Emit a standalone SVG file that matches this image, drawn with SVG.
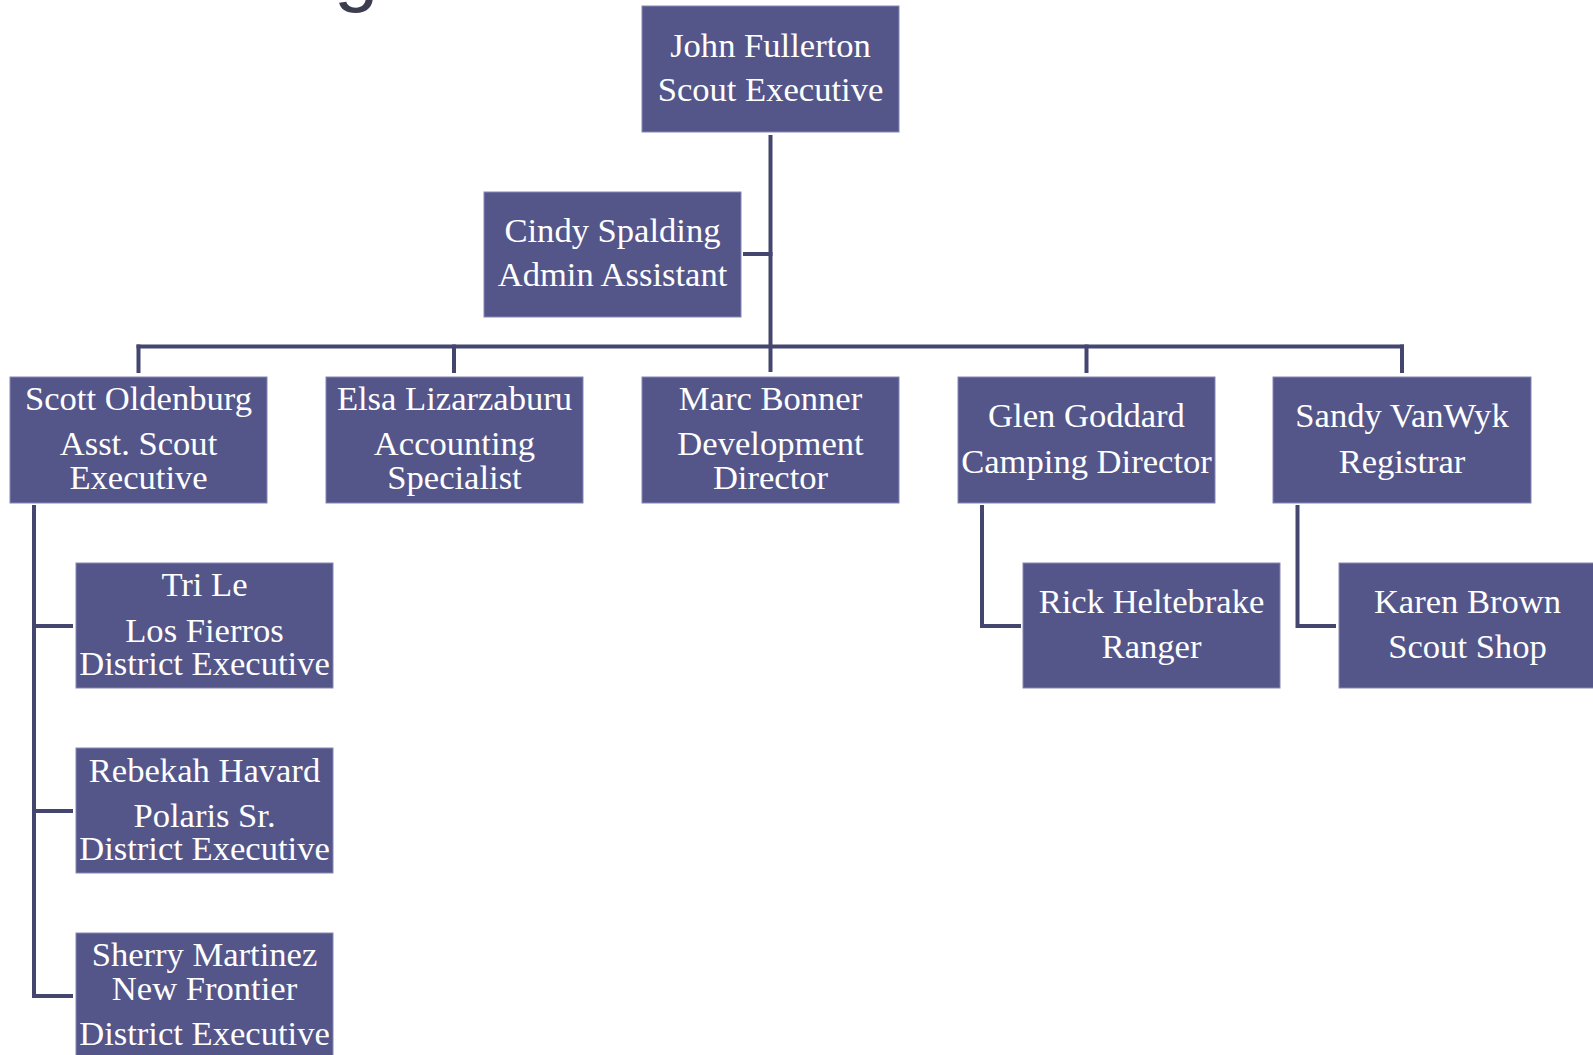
<svg xmlns="http://www.w3.org/2000/svg" width="1593" height="1055" viewBox="0 0 1593 1055">
<style>
.box{fill:#54568a;stroke:#8587b5;stroke-width:1}
.t{font-family:"Liberation Serif","Times New Roman",serif;font-size:34.6px;fill:#ffffff;text-anchor:middle}
.c{fill:none;stroke:#45466f;stroke-width:4;stroke-linecap:square}
.title{font-family:"Liberation Sans",Arial,sans-serif;font-size:80px;fill:#3d3d50}
</style>
<rect width="1593" height="1055" fill="#ffffff"/>
<text class="title" x="334" y="-4">g</text>
<g id="connectors">
<path class="c" d="M770.5 137 V370"/>
<path class="c" d="M745 254 H770.5"/>
<path class="c" d="M138.5 346.5 H1402"/>
<path class="c" d="M138.5 346.5 V371 M454 346.5 V371 M1086.5 346.5 V371 M1402 346.5 V371"/>
<path class="c" d="M34 507 V996 H71 M34 626 H71 M34 811 H71"/>
<path class="c" d="M982 507 V626 H1019"/>
<path class="c" d="M1297.5 507 V626 H1334"/>
</g>
<g id="john"><rect class="box" x="642" y="6" width="257" height="126"/>
<text class="t" x="770.5" y="57">John Fullerton</text><text class="t" x="770.5" y="101">Scout Executive</text></g>
<g id="cindy"><rect class="box" x="484" y="192" width="257" height="125"/>
<text class="t" x="612.5" y="242">Cindy Spalding</text><text class="t" x="612.5" y="286">Admin Assistant</text></g>
<g id="scott"><rect class="box" x="10" y="377" width="257" height="126"/>
<text class="t" x="138.5" y="410">Scott Oldenburg</text><text class="t" x="138.5" y="455">Asst. Scout</text><text class="t" x="138.5" y="489">Executive</text></g>
<g id="elsa"><rect class="box" x="326" y="377" width="257" height="126"/>
<text class="t" x="454.5" y="410">Elsa Lizarzaburu</text><text class="t" x="454.5" y="455">Accounting</text><text class="t" x="454.5" y="489">Specialist</text></g>
<g id="marc"><rect class="box" x="642" y="377" width="257" height="126"/>
<text class="t" x="770.5" y="410">Marc Bonner</text><text class="t" x="770.5" y="455">Development</text><text class="t" x="770.5" y="489">Director</text></g>
<g id="glen"><rect class="box" x="958" y="377" width="257" height="126"/>
<text class="t" x="1086.5" y="427">Glen Goddard</text><text class="t" x="1086.5" y="473">Camping Director</text></g>
<g id="sandy"><rect class="box" x="1273" y="377" width="258" height="126"/>
<text class="t" x="1402" y="427">Sandy VanWyk</text><text class="t" x="1402" y="473">Registrar</text></g>
<g id="rick"><rect class="box" x="1023" y="563" width="257" height="125"/>
<text class="t" x="1151.5" y="613">Rick Heltebrake</text><text class="t" x="1151.5" y="658">Ranger</text></g>
<g id="karen"><rect class="box" x="1339" y="563" width="257" height="125"/>
<text class="t" x="1467.5" y="613">Karen Brown</text><text class="t" x="1467.5" y="658">Scout Shop</text></g>
<g id="tri"><rect class="box" x="76" y="563" width="257" height="125"/>
<text class="t" x="204.5" y="596">Tri Le</text><text class="t" x="204.5" y="642">Los Fierros</text><text class="t" x="204.5" y="675">District Executive</text></g>
<g id="rebekah"><rect class="box" x="76" y="748" width="257" height="125"/>
<text class="t" x="204.5" y="782">Rebekah Havard</text><text class="t" x="204.5" y="827">Polaris Sr.</text><text class="t" x="204.5" y="860">District Executive</text></g>
<g id="sherry"><rect class="box" x="76" y="933" width="257" height="125"/>
<text class="t" x="204.5" y="966">Sherry Martinez</text><text class="t" x="204.5" y="1000">New Frontier</text><text class="t" x="204.5" y="1045">District Executive</text></g>
</svg>
